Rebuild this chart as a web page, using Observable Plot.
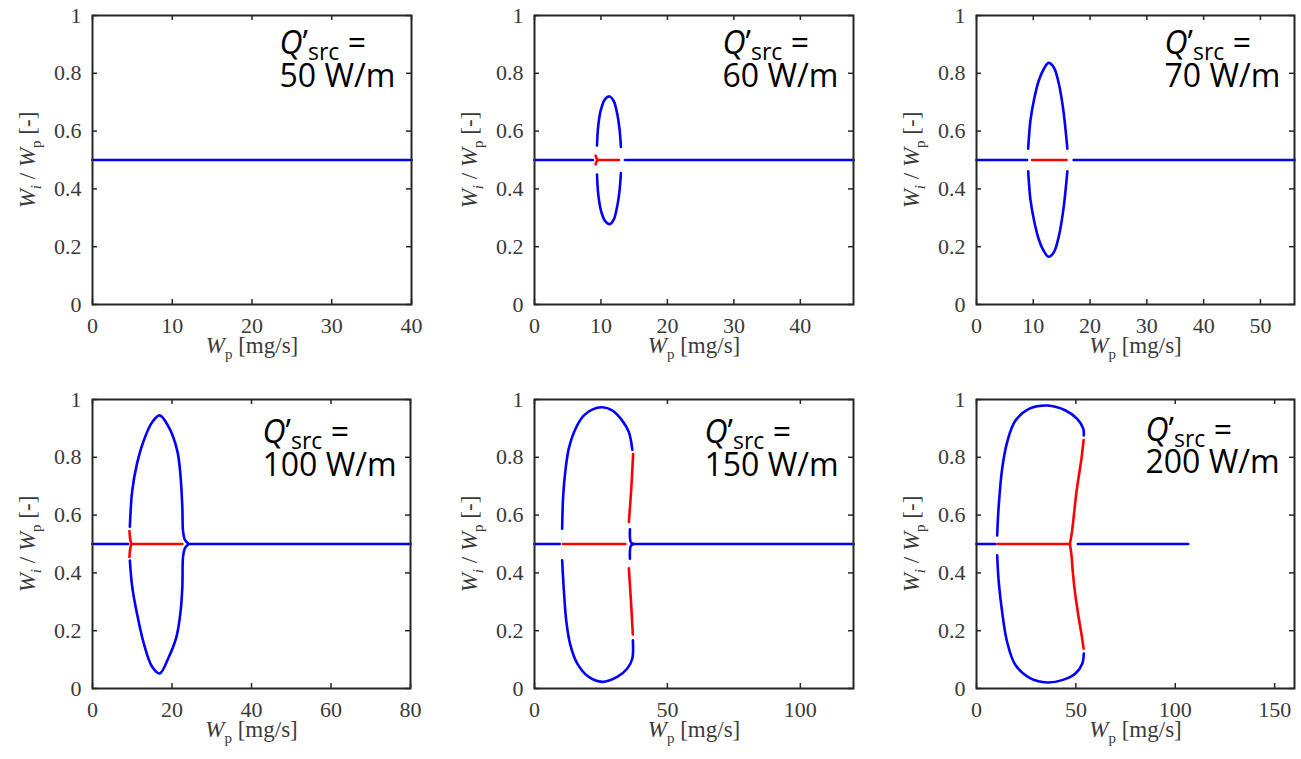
<!DOCTYPE html>
<html><head><meta charset="utf-8">
<script src="https://cdn.jsdelivr.net/npm/d3@7"></script>
<script src="https://cdn.jsdelivr.net/npm/@observablehq/plot@0.6"></script>
<style>
body{margin:0;background:#fff;}
#root{position:relative;width:1301px;height:759px;background:#fff;overflow:hidden;}
#root svg{position:absolute;}
</style></head><body><div id="root"></div>
<script>
// ---- Data ----
const qValues = ["50", "60", "70", "100", "150", "200"]; // Q'src in W/m
const xMax = [40, 48, 56, 80, 120, 160];
const xTicks = [[0,10,20,30,40],[0,10,20,30,40],[0,10,20,30,40,50],[0,20,40,60,80],[0,50,100],[0,50,100,150]];
const yTicks = [0, 0.2, 0.4, 0.6, 0.8, 1];

// Q' = 50 W/m
const q50_blue_h = [[0,0.5],[40,0.5]];

// Q' = 60 W/m
const q60_blue_left = [[0,0.5],[8.8,0.5]];
const q60_blue_right = [[13.6,0.5],[48,0.5]];
const q60_red_mid = [[9.5,0.5],[12.7,0.5]];
const q60_red_fork = [[9.2,0.515],[9.35,0.505],[9.5,0.5],[9.35,0.495],[9.2,0.485]];
const q60_upper = [[9.4,0.55],[9.6,0.62],[10.0,0.675],[10.6,0.71],[11.3,0.72],[11.9,0.705],[12.4,0.665],[12.8,0.605],[13.0,0.545]];
const q60_lower = [[9.4,0.45],[9.6,0.38],[10.0,0.325],[10.6,0.29],[11.3,0.278],[11.9,0.293],[12.4,0.335],[12.8,0.395],[13.0,0.455]];

// Q' = 70 W/m
const q70_blue_left = [[0,0.5],[8.9,0.5]];
const q70_blue_right = [[17.1,0.5],[56,0.5]];
const q70_red_mid = [[9.8,0.5],[15.85,0.5]];
const q70_upper = [[9.1,0.539],[9.5,0.637],[10.1,0.706],[10.97,0.775],[11.85,0.815],[12.7,0.836],[13.6,0.821],[14.5,0.764],[15.3,0.671],[16.0,0.539]];
const q70_lower = [[9.1,0.461],[9.5,0.363],[10.1,0.294],[10.97,0.225],[11.85,0.185],[12.7,0.165],[13.6,0.18],[14.5,0.236],[15.3,0.329],[16.0,0.461]];

// Q' = 100 W/m
const q100_blue_left = [[0,0.5],[8.9,0.5]];
const q100_blue_right = [[24.2,0.5],[80,0.5]];
const q100_red_mid = [[9.7,0.5],[22.6,0.5]];
const q100_red_fork = [[9.3,0.545],[9.45,0.52],[9.7,0.5],[9.45,0.48],[9.3,0.455]];
const q100_upper = [[9.4,0.56],[10.0,0.685],[11.2,0.778],[12.9,0.858],[15.0,0.921],[16.9,0.945],[19.2,0.904],[21.3,0.824],[22.1,0.743],[22.6,0.628],[22.8,0.541],[23.3,0.513],[24.2,0.5]];
const q100_lower = [[24.2,0.5],[23.3,0.487],[22.8,0.459],[22.6,0.351],[22.1,0.259],[21.1,0.178],[19.2,0.109],[16.9,0.052],[15.0,0.075],[12.9,0.156],[11.2,0.259],[10.0,0.351],[9.4,0.443]];

// Q' = 150 W/m
const q150_blue_left = [[0,0.5],[9.5,0.5]];
const q150_blue_right = [[37.1,0.5],[120,0.5]];
const q150_red_mid = [[10.7,0.5],[34.2,0.5]];
const q150_upper = [[10.4,0.553],[10.8,0.668],[11.7,0.76],[12.9,0.83],[15.4,0.898],[18.5,0.944],[21.7,0.965],[25.5,0.973],[29.2,0.962],[33.0,0.927],[35.5,0.887],[36.8,0.826]];
const q150_red_upper = [[37.1,0.811],[36.4,0.691],[35.5,0.576]];
const q150_cusp_upper = [[35.9,0.551],[36.2,0.507],[37.1,0.5]];
const q150_cusp_lower = [[37.1,0.5],[36.2,0.493],[35.9,0.449]];
const q150_red_lower = [[35.5,0.416],[36.3,0.3],[37.0,0.187]];
const q150_lower = [[37.0,0.167],[36.8,0.104],[34.9,0.069],[31.1,0.04],[25.5,0.023],[20.4,0.04],[16.1,0.086],[13.5,0.15],[12.0,0.23],[11.0,0.346],[10.4,0.444]];

// Q' = 200 W/m
const q200_blue_left = [[0,0.5],[9.6,0.5]];
const q200_blue_right = [[51.0,0.5],[106.5,0.5]];
const q200_red_mid = [[10.7,0.5],[47.0,0.5]];
const q200_upper = [[10.4,0.53],[11.2,0.634],[12.9,0.76],[15.4,0.852],[19.6,0.927],[27.2,0.97],[35.6,0.979],[44.8,0.962],[50.7,0.933],[53.7,0.899],[54.0,0.876]];
const q200_red_upper = [[53.9,0.86],[52.9,0.8],[51.8,0.75],[50.3,0.68],[49.0,0.6],[48.0,0.54],[47.0,0.5]];
const q200_red_lower = [[47.0,0.5],[47.8,0.46],[48.5,0.4],[49.6,0.33],[51.3,0.25],[53.0,0.18],[53.9,0.138]];
const q200_lower = [[54.0,0.121],[53.2,0.086],[49.8,0.052],[43.1,0.029],[35.6,0.021],[27.2,0.035],[19.6,0.081],[15.4,0.161],[12.9,0.265],[11.2,0.368],[10.4,0.461]];

const blueSegments = [
  [q50_blue_h],
  [q60_blue_left, q60_blue_right, q60_upper, q60_lower],
  [q70_blue_left, q70_blue_right, q70_upper, q70_lower],
  [q100_blue_left, q100_blue_right, q100_upper, q100_lower],
  [q150_blue_left, q150_blue_right, q150_upper, q150_cusp_upper, q150_cusp_lower, q150_lower],
  [q200_blue_left, q200_blue_right, q200_upper, q200_lower]
];
const redSegments = [
  [],
  [q60_red_mid, q60_red_fork],
  [q70_red_mid],
  [q100_red_mid, q100_red_fork],
  [q150_red_mid, q150_red_upper, q150_red_lower],
  [q200_red_mid, q200_red_upper, q200_red_lower]
];

// ---- Layout (pixels) ----
const layout = [
  {left:0,   top:0,   w:433, h:380, ml:92,  mr:22, mt:15, mb:76, a1:38, a2:71, adx:187},
  {left:433, top:0,   w:434, h:380, ml:101, mr:14, mt:15, mb:76, a1:38, a2:71, adx:188},
  {left:867, top:0,   w:434, h:380, ml:109, mr:7,  mt:15, mb:76, a1:38, a2:71, adx:188},
  {left:0,   top:380, w:433, h:379, ml:92,  mr:23, mt:19, mb:71, a1:43, a2:76, adx:170},
  {left:433, top:380, w:434, h:379, ml:101, mr:14, mt:19, mb:71, a1:43, a2:76, adx:170},
  {left:867, top:380, w:434, h:379, ml:109, mr:7,  mt:19, mb:71, a1:41, a2:73, adx:169}
];

const BLUE = "#0000ff", RED = "#ff0000", FRAME = "#262626", TXT = "#3a3a3a";
const SERIF = "'Liberation Serif', 'DejaVu Serif', serif";
const SANS = "'Open Sans', 'DejaVu Sans', sans-serif";
const ANN = 32;
const TICKFS = 22;
const LABFS = 23;

function toRows(segs) {
  const out = [];
  segs.forEach((s, i) => s.forEach(([x, y]) => out.push({seg: i, x, y})));
  return out;
}

const richText = {
  "__XLABEL__": '<tspan font-style="italic">W</tspan><tspan dy="6" font-size="15">p</tspan><tspan dy="-6"> [mg/s]</tspan>',
  "__YLABEL__": '<tspan font-style="italic">W</tspan><tspan dy="6" font-size="15" font-style="italic">i</tspan><tspan dy="-6"> / </tspan><tspan font-style="italic">W</tspan><tspan dy="6" font-size="15">p</tspan><tspan dy="-6"> [-]</tspan>',
  "__QLABEL__": '<tspan font-style="italic">Q</tspan>\u2019<tspan dy="7" font-size="23">src</tspan><tspan dy="-7"> =</tspan>'
};

const root = document.getElementById("root");
const emToTop = 0.71 * ANN;

qValues.forEach((q, i) => {
  const L = layout[i];
  const fw = L.w - L.ml - L.mr;
  const fh = L.h - L.mt - L.mb;
  const annLine2 = q + " W/m";
  const plot = Plot.plot({
    width: L.w, height: L.h,
    marginLeft: L.ml, marginRight: L.mr, marginTop: L.mt, marginBottom: L.mb,
    style: {fontFamily: SERIF, fontSize: "20px", color: TXT, background: "transparent", overflow: "visible"},
    x: {domain: [0, xMax[i]]},
    y: {domain: [0, 1]},
    marks: [
      Plot.line(toRows(blueSegments[i]), {x: "x", y: "y", z: "seg", stroke: BLUE, strokeWidth: 2.6, curve: "catmull-rom"}),
      Plot.line(toRows(redSegments[i]), {x: "x", y: "y", z: "seg", stroke: RED, strokeWidth: 2.6, curve: "catmull-rom"}),
      Plot.tickX(xTicks[i], {x: d => d, insetTop: fh - 5, stroke: FRAME, strokeWidth: 1.5}),
      Plot.tickX(xTicks[i], {x: d => d, insetBottom: fh - 5, stroke: FRAME, strokeWidth: 1.5}),
      Plot.tickY(yTicks, {y: d => d, insetRight: fw - 5, stroke: FRAME, strokeWidth: 1.5}),
      Plot.tickY(yTicks, {y: d => d, insetLeft: fw - 5, stroke: FRAME, strokeWidth: 1.5}),
      Plot.frame({stroke: FRAME, strokeWidth: 2}),
      Plot.axisX({ticks: xTicks[i], tickSize: 0, tickPadding: 13, label: null, tickFormat: d => String(d), fontSize: TICKFS, fill: TXT}),
      Plot.axisY({ticks: yTicks, tickSize: 0, tickPadding: 11, label: null, tickFormat: d => String(d), fontSize: TICKFS, fill: TXT}),
      Plot.text(["__XLABEL__"], {text: d => d, frameAnchor: "bottom", dy: 48, fontSize: LABFS, fill: TXT, textAnchor: "middle"}),
      Plot.text(["__YLABEL__"], {text: d => d, frameAnchor: "left", dx: -65, rotate: -90, fontSize: LABFS, fill: TXT, textAnchor: "middle"}),
      Plot.text(["__QLABEL__"], {text: d => d, frameAnchor: "top-left", dx: L.adx, dy: L.a1 - emToTop, lineAnchor: "top", textAnchor: "start", fontSize: ANN, fill: "#000"}),
      Plot.text([annLine2], {text: d => d, frameAnchor: "top-left", dx: L.adx, dy: L.a2 - emToTop, lineAnchor: "top", textAnchor: "start", fontSize: ANN, fill: "#000"})
    ]
  });
  plot.style.left = L.left + "px";
  plot.style.top = L.top + "px";
  d3.select(plot).selectAll("text").each(function() {
    const t = this.textContent;
    const isAnn = (t === "__QLABEL__" || t === annLine2);
    this.setAttribute("font-family", isAnn ? SANS : SERIF);
    this.style.setProperty("font-family", isAnn ? SANS : SERIF, "important");
    if (richText[t]) this.innerHTML = richText[t];
  });
  root.appendChild(plot);
});
</script></body></html>
